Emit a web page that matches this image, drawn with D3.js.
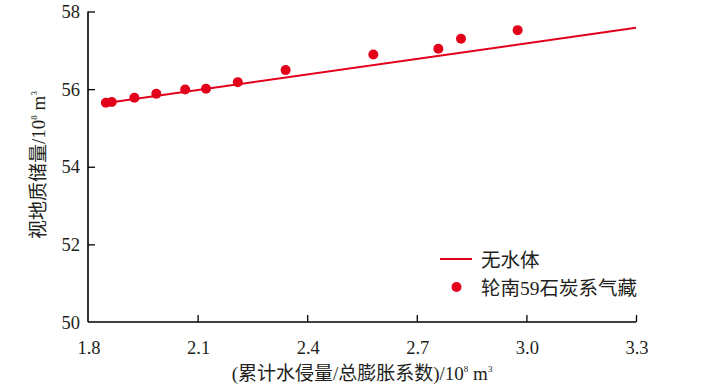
<!DOCTYPE html>
<html lang="zh-cn">
<meta charset="utf-8">
<style>
  body { margin: 0; background: #fff; }
  text { font-family: "Liberation Serif", "Noto Sans CJK SC", serif; fill: #231f20; }
</style>
<body>
<svg width="707" height="386"></svg>
<script src="https://d3js.org/d3.v7.min.js"></script>
<script>
// 轮南59石炭系气藏 数据点
const ptX = [1.849, 1.865, 1.927, 1.987, 2.066, 2.123, 2.210, 2.341, 2.581, 2.759, 2.821, 2.976]
const ptY = [55.65, 55.67, 55.78, 55.88, 55.99, 56.01, 56.18, 56.49, 56.89, 57.04, 57.30, 57.52]
// 无水体 直线
const lineX = [1.85, 3.3]
const lineY = [55.64, 57.58]
const xTicks = [2.1, 2.4, 2.7, 3.0, 3.3]
const xLabels = [1.8, 2.1, 2.4, 2.7, 3.0, 3.3]
const yTicks = [50, 52, 54, 56, 58]
const legendNames = ['无水体', '轮南59石炭系气藏']

const red = '#e3001b'
const svg = d3.select('svg')

const x = d3.scaleLinear().domain([1.8, 3.3]).range([88, 636])
const y = d3.scaleLinear().domain([50, 58]).range([322, 11.5])

// 坐标轴
svg.append('g')
  .attr('transform', `translate(0,${y(50)})`)
  .call(d3.axisTop(x).tickValues(xTicks).tickSize(7).tickSizeOuter(0).tickFormat(''))
  .call(g => g.select('.domain').attr('stroke-width', 1.6).attr('d', `M${x(1.8)},0H${x(3.3)}`))
  .call(g => g.selectAll('.tick line').attr('stroke-width', 1.3))

svg.append('g')
  .attr('transform', `translate(${x(1.8)},0)`)
  .call(d3.axisRight(y).tickValues(yTicks.slice(1)).tickSize(7).tickSizeOuter(0).tickFormat(''))
  .call(g => g.select('.domain').attr('stroke-width', 1.6).attr('d', `M0,${y(58)}V${y(50)}`))
  .call(g => g.selectAll('.tick line').attr('stroke-width', 1.3))

// 刻度标签
svg.append('g').selectAll('text')
  .data(xLabels).enter()
  .append('text')
  .attr('x', d => x(d) + 1)
  .attr('y', 354)
  .attr('text-anchor', 'middle')
  .attr('font-size', 18.5)
  .text(d => d.toFixed(1))

svg.append('g').selectAll('text')
  .data(yTicks).enter()
  .append('text')
  .attr('x', 80)
  .attr('y', d => y(d) + 6.5)
  .attr('text-anchor', 'end')
  .attr('font-size', 18.5)
  .text(d => d)

// 轴标题
const xt = svg.append('text')
  .attr('x', 362).attr('y', 380)
  .attr('text-anchor', 'middle')
  .attr('font-size', 19)
xt.append('tspan').text('(累计水侵量/总膨胀系数)/10')
xt.append('tspan').attr('font-size', 9).attr('dy', -8).text('8')
xt.append('tspan').attr('dy', 8).text(' m')
xt.append('tspan').attr('font-size', 9).attr('dy', -8).text('3')

const yt = svg.append('text')
  .attr('transform', 'translate(45,165) rotate(-90)')
  .attr('text-anchor', 'middle')
  .attr('font-size', 19)
yt.append('tspan').text('视地质储量/10')
yt.append('tspan').attr('font-size', 9).attr('dy', -8).text('8')
yt.append('tspan').attr('dy', 8).text(' m')
yt.append('tspan').attr('font-size', 9).attr('dy', -8).text('3')

// 无水体线
svg.append('path')
  .datum(lineX.map((d, i) => [d, lineY[i]]))
  .attr('fill', 'none')
  .attr('stroke', red)
  .attr('stroke-width', 2)
  .attr('d', d3.line().x(d => x(d[0])).y(d => y(d[1])))

// 数据点
svg.append('g').selectAll('circle')
  .data(ptX.map((d, i) => [d, ptY[i]])).enter()
  .append('circle')
  .attr('cx', d => x(d[0]))
  .attr('cy', d => y(d[1]))
  .attr('r', 5)
  .attr('fill', red)

// 图例
const lg = svg.append('g')
lg.append('line')
  .attr('x1', 440).attr('x2', 472).attr('y1', 259).attr('y2', 259)
  .attr('stroke', red).attr('stroke-width', 2)
lg.append('circle').attr('cx', 456.5).attr('cy', 287).attr('r', 5).attr('fill', red)
lg.selectAll('text')
  .data(legendNames).enter()
  .append('text')
  .attr('x', 481)
  .attr('y', (d, i) => 266.5 + i * 28)
  .attr('font-size', 19.5)
  .text(d => d)
</script>
</body>
</html>
